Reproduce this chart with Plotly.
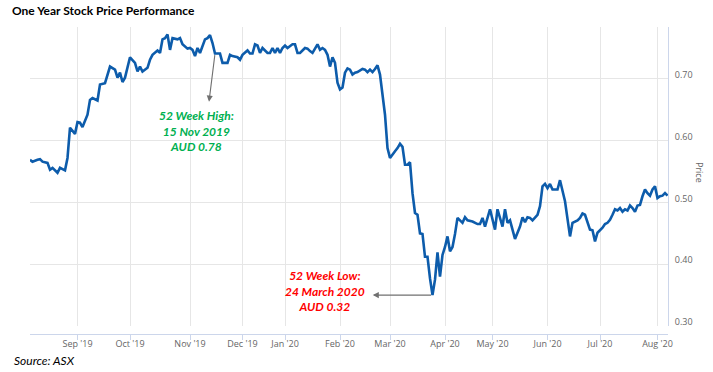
import plotly.graph_objects as go

# Trading-day index (ordinal axis, as in the original stock chart) and closing price (AUD)
trading_day = [0, 1, 3, 4, 5, 7, 8, 9, 11, 12, 14, 15, 16, 18, 19, 20, 21, 23, 24, 25,
               27, 28, 30, 32, 34, 35, 36, 37, 38, 39, 40, 42, 43, 44, 45, 47, 48, 49, 51, 52,
               53, 54, 55, 56, 57, 59, 60, 61, 63, 64, 65, 66, 67, 68, 69, 70, 71, 72, 73, 74,
               76, 77, 79, 80, 81, 83, 84, 85, 87, 88, 89, 90, 91, 92, 93, 95, 96, 97, 98, 99,
               100, 101, 102, 103, 105, 106, 107, 108, 110, 111, 112, 113, 115, 116, 117, 118, 119, 120, 121, 122,
               123, 124, 125, 126, 127, 128, 129, 130, 131, 133, 134, 135, 136, 137, 138, 139, 140, 141, 142, 143,
               144, 146, 147, 148, 149, 150, 151, 152, 153, 154, 155, 156, 157, 158, 159, 160, 161, 162, 163, 164,
               165, 166, 167, 168, 169, 170, 171, 173, 174, 175, 177, 179, 180, 181, 182, 184, 185, 186, 187, 189,
               190, 191, 192, 194, 196, 197, 198, 199, 200, 201, 203, 204, 205, 206, 207, 208, 209, 211, 212, 214,
               216, 217, 219, 220, 221, 222, 224, 225, 226, 227, 229, 230, 231, 232, 233, 234, 235, 236, 237, 238,
               239, 240, 241, 242, 243, 244, 245, 246, 247, 248, 249, 250, 251, 252, 253, 254, 255]
price = [0.569, 0.566, 0.569, 0.570, 0.566, 0.564, 0.553, 0.556, 0.548, 0.556, 0.552, 0.572, 0.621, 0.611, 0.630, 0.629, 0.622, 0.642, 0.666, 0.669,
         0.665, 0.691, 0.693, 0.720, 0.715, 0.702, 0.710, 0.695, 0.702, 0.720, 0.735, 0.726, 0.712, 0.720, 0.712, 0.718, 0.731, 0.739, 0.746, 0.742,
         0.764, 0.766, 0.772, 0.747, 0.766, 0.764, 0.766, 0.756, 0.749, 0.750, 0.747, 0.737, 0.750, 0.742, 0.753, 0.764, 0.766, 0.771, 0.758, 0.741,
         0.741, 0.726, 0.726, 0.739, 0.737, 0.735, 0.731, 0.739, 0.746, 0.741, 0.741, 0.756, 0.754, 0.742, 0.750, 0.742, 0.742, 0.750, 0.742, 0.750,
         0.742, 0.750, 0.754, 0.750, 0.756, 0.756, 0.742, 0.742, 0.750, 0.749, 0.745, 0.742, 0.756, 0.747, 0.750, 0.747, 0.739, 0.720, 0.735, 0.726,
         0.694, 0.683, 0.686, 0.710, 0.717, 0.715, 0.707, 0.710, 0.711, 0.716, 0.715, 0.711, 0.715, 0.711, 0.716, 0.722, 0.707, 0.677, 0.642, 0.588,
         0.572, 0.583, 0.588, 0.595, 0.590, 0.561, 0.561, 0.565, 0.515, 0.483, 0.480, 0.450, 0.449, 0.412, 0.412, 0.377, 0.350, 0.375, 0.419, 0.380,
         0.415, 0.428, 0.445, 0.421, 0.428, 0.449, 0.475, 0.467, 0.476, 0.471, 0.469, 0.465, 0.465, 0.475, 0.461, 0.489, 0.472, 0.456, 0.489, 0.461,
         0.489, 0.467, 0.471, 0.441, 0.461, 0.476, 0.468, 0.476, 0.475, 0.471, 0.480, 0.494, 0.526, 0.530, 0.523, 0.530, 0.521, 0.521, 0.536, 0.502,
         0.445, 0.467, 0.471, 0.475, 0.482, 0.480, 0.456, 0.455, 0.437, 0.451, 0.459, 0.465, 0.467, 0.472, 0.480, 0.489, 0.487, 0.491, 0.485, 0.489,
         0.487, 0.495, 0.491, 0.485, 0.495, 0.496, 0.510, 0.521, 0.515, 0.511, 0.521, 0.526, 0.507, 0.510, 0.511, 0.515, 0.511]

# First trading day of each month (ordinal index) and labels
month_tick_day = [19, 40, 64, 85, 102, 124, 144, 166, 185, 207, 228, 251]
month_tick_label = ["Sep '19", "Oct '19", "Nov '19", "Dec '19", "Jan '20", "Feb '20",
                    "Mar '20", "Apr '20", "May '20", "Jun '20", "Jul '20", "Aug '20"]

price_tick_vals = [0.30, 0.40, 0.50, 0.60, 0.70]
price_tick_text = ["0.30", "0.40", "0.50", "0.60", "0.70"]

high_text = "52 Week High:<br>15 Nov 2019<br>AUD 0.78"
low_text = "52 Week Low:<br>24 March 2020<br>AUD 0.32"

W, H = 713, 372
ML, MR, MT, MB = 30, 45, 27, 38
plot_h = H - MT - MB

fig = go.Figure()
fig.add_trace(go.Scatter(
    x=trading_day, y=price, mode="lines",
    line=dict(color="#0d5cab", width=2.6),
    hoverinfo="skip", showlegend=False,
))

tick_font = dict(family="Open Sans", size=9, color="#666666")

fig.update_layout(
    width=W, height=H,
    margin=dict(l=ML, r=MR, t=MT, b=MB, pad=0),
    paper_bgcolor="white", plot_bgcolor="white",
    showlegend=False,
    title=dict(text="<b>One Year Stock Price Performance</b>",
               font=dict(family="Lato", size=12, color="#000000"),
               xref="container", yref="container",
               x=12 / W, xanchor="left", y=1 - 11 / H, yanchor="middle"),
    xaxis=dict(
        range=[0, 255.2], anchor="free", position=0,
        tickmode="array", tickvals=month_tick_day, ticktext=month_tick_label,
        tickfont=tick_font,
        showgrid=True, gridcolor="#e6e6e6", gridwidth=1,
        showline=True, linecolor="#ccd6eb", linewidth=1,
        ticks="outside", ticklen=5, tickcolor="#ccd6eb", tickwidth=1,
        ticklabelstandoff=-4,
        zeroline=False, fixedrange=True,
    ),
    yaxis=dict(
        domain=[8 / plot_h, 1], range=[0.30, 0.784],
        side="right",
        tickmode="array", tickvals=price_tick_vals, ticktext=price_tick_text,
        tickfont=tick_font,
        showgrid=True, gridcolor="#e6e6e6", gridwidth=1,
        showline=True, linecolor="#ccd6eb", linewidth=1,
        ticks="", ticklabelstandoff=4, ticklabelshift=-4,
        zeroline=False, fixedrange=True,
    ),
)

# axis title (reads top-to-bottom like the original)
fig.add_annotation(text="Price", xref="paper", yref="paper",
                   x=1 + 32 / (W - ML - MR), y=1 - (172 - MT) / plot_h,
                   xanchor="center", yanchor="middle", textangle=90,
                   showarrow=False, font=dict(family="Open Sans", size=9, color="#666666"))

# 52-week high label and arrow
hi_i = 59
fig.add_annotation(text="", x=71.6, y=0.663, ax=trading_day[hi_i], ay=price[hi_i],
                   xref="x", yref="y", axref="x", ayref="y",
                   showarrow=True, arrowhead=2, arrowsize=1.1, arrowwidth=1.1, arrowcolor="#707070")
fig.add_annotation(text="<b><i>" + high_text + "</i></b>", x=66.4, y=0.615, xref="x", yref="y",
                   showarrow=False, xanchor="center", yanchor="middle", align="center",
                   font=dict(family="Lato", size=12, color="#00b050"))

# 52-week low label and arrow
lo_i = price.index(min(price))
fig.add_annotation(text="", x=137.1, y=price[lo_i], ax=trading_day[lo_i], ay=price[lo_i],
                   xref="x", yref="y", axref="x", ayref="y",
                   showarrow=True, arrowhead=2, arrowsize=1.1, arrowwidth=1.1, arrowcolor="#707070")
fig.add_annotation(text="<b><i>" + low_text + "</i></b>", x=118, y=0.356, xref="x", yref="y",
                   showarrow=False, xanchor="center", yanchor="middle", align="center",
                   font=dict(family="Lato", size=12, color="#ff0000"))

# source note
fig.add_annotation(text="<i>Source: ASX</i>", xref="paper", yref="paper",
                   x=-18 / (W - ML - MR), y=-(360 - (H - MB)) / plot_h,
                   xanchor="left", yanchor="middle", showarrow=False,
                   font=dict(family="Lato", size=12, color="#000000"))

fig.write_html("out.html",
               config={"displayModeBar": False, "staticPlot": True},
               post_script="document.body.style.margin='0';document.body.style.overflow='hidden';")
